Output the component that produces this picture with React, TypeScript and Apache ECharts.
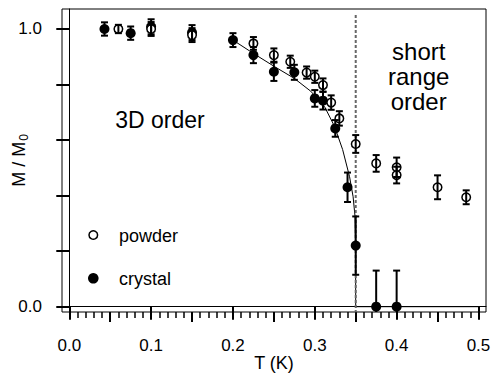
import React, { useEffect, useRef } from "react";
import * as echarts from "echarts";

const FONT = "'Liberation Sans', Arial, Helvetica, sans-serif";

// crystal (filled circles)
const crystalT = [0.043, 0.075, 0.1, 0.15, 0.2, 0.225, 0.25, 0.275, 0.3, 0.31, 0.325, 0.34, 0.35, 0.375, 0.4];
const crystalM = [1.0, 0.985, 1.008, 0.987, 0.96, 0.906, 0.846, 0.844, 0.75, 0.742, 0.642, 0.43, 0.22, 0, 0];
const crystalErr = [0.024, 0.024, 0.027, 0.027, 0.025, 0.029, 0.033, 0.027, 0.03, 0.032, 0.03, 0.053, 0.105, 0.13, 0.13];

// powder (open circles)
const powderT = [0.06, 0.1, 0.15, 0.225, 0.25, 0.27, 0.29, 0.3, 0.31, 0.32, 0.33, 0.35, 0.375, 0.4, 0.4, 0.45, 0.485];
const powderM = [1.0, 1.0, 0.978, 0.948, 0.906, 0.882, 0.843, 0.828, 0.798, 0.735, 0.678, 0.586, 0.516, 0.502, 0.474, 0.43, 0.394];
const powderErr = [0.015, 0.025, 0.025, 0.023, 0.024, 0.022, 0.022, 0.022, 0.024, 0.026, 0.026, 0.032, 0.03, 0.035, 0.03, 0.043, 0.025];

// fit curve
const fitT = [0.2, 0.225, 0.25, 0.275, 0.295, 0.312, 0.324, 0.334, 0.3425, 0.3468, 0.349, 0.3499, 0.35, 0.5];
const fitM = [0.96, 0.912, 0.866, 0.822, 0.776, 0.72, 0.65, 0.566, 0.468, 0.396, 0.33, 0.2, 0, 0];

// transition temperature marker
const tcLineT = [0.35, 0.35];
const tcLineM = [1.05, -0.02];

// ticks
const xMajorTicks = [0, 0.1, 0.2, 0.3, 0.4, 0.5];
const xMidTicks = [0.05, 0.15, 0.25, 0.35, 0.45];
const xMinorTicks = [
  0.01, 0.02, 0.03, 0.04, 0.06, 0.07, 0.08, 0.09,
  0.11, 0.12, 0.13, 0.14, 0.16, 0.17, 0.18, 0.19,
  0.21, 0.22, 0.23, 0.24, 0.26, 0.27, 0.28, 0.29,
  0.31, 0.32, 0.33, 0.34, 0.36, 0.37, 0.38, 0.39,
  0.41, 0.42, 0.43, 0.44, 0.46, 0.47, 0.48, 0.49,
];
const yTicks = [0, 0.2, 0.4, 0.6, 0.8, 1.0];
const yLabels = [0, 1.0];

const X_MIN = -0.0089;
const X_MAX = 0.5092;
const Y_MIN = -0.0191;
const Y_MAX = 1.072;

function errRender(params: any, api: any) {
  const x = api.value(0);
  const y = api.value(1);
  const e = api.value(2);
  const top = api.coord([x, y + e]);
  const bot = api.coord([x, y - e]);
  const w = 3.5;
  const st = { stroke: "#000", lineWidth: 2 };
  return {
    type: "group",
    children: [
      { type: "line", shape: { x1: top[0], y1: top[1], x2: bot[0], y2: bot[1] }, style: st },
      { type: "line", shape: { x1: top[0] - w, y1: top[1], x2: top[0] + w, y2: top[1] }, style: st },
      { type: "line", shape: { x1: bot[0] - w, y1: bot[1], x2: bot[0] + w, y2: bot[1] }, style: st },
    ],
  };
}

export default function App() {
  const ref = useRef<HTMLDivElement>(null);
  useEffect(() => {
    if (!ref.current) return;
    const chart = echarts.init(ref.current, null, { renderer: "svg" });
    const xBase = {
      type: "value",
      min: X_MIN,
      max: X_MAX,
      position: "bottom",
      splitLine: { show: false },
    };
    const option: any = {
      animation: false,
      backgroundColor: "#fff",
      grid: {
        left: 62,
        top: 9,
        right: 8,
        bottom: 62,
        containLabel: false,
        outerBoundsMode: "none",
        show: true,
        borderColor: "#000",
        borderWidth: 1,
        backgroundColor: "transparent",
      },
      xAxis: [
        {
          ...xBase,
          name: "T (K)",
          nameLocation: "middle",
          nameGap: 42,
          nameMoveOverlap: false,
          nameTextStyle: { fontSize: 18, color: "#000", fontFamily: FONT },
          axisLine: { show: true, lineStyle: { color: "#000", width: 1 } },
          axisTick: { show: true, customValues: xMajorTicks, length: 13, lineStyle: { color: "#000", width: 2 } },
          axisLabel: {
            customValues: xMajorTicks,
            margin: 25,
            fontSize: 17,
            color: "#000",
            fontFamily: FONT,
            formatter: (v: number) => v.toFixed(1),
          },
        },
        {
          ...xBase,
          axisLine: { show: false },
          axisTick: { show: true, customValues: xMidTicks, length: 10, lineStyle: { color: "#000", width: 2 } },
          axisLabel: { show: false },
        },
        {
          ...xBase,
          axisLine: { show: false },
          axisTick: { show: true, customValues: xMinorTicks, length: 6, lineStyle: { color: "#000", width: 1.5 } },
          axisLabel: { show: false },
        },
      ],
      yAxis: {
        type: "value",
        min: Y_MIN,
        max: Y_MAX,
        splitLine: { show: false },
        name: "{m|M / M}{s|0}",
        nameLocation: "middle",
        nameGap: 32,
        nameMoveOverlap: false,
        nameTextStyle: {
          color: "#000",
          fontFamily: FONT,
          rich: {
            m: { fontSize: 18, color: "#000", fontFamily: FONT, lineHeight: 22 },
            s: { fontSize: 12, color: "#000", fontFamily: FONT, lineHeight: 12, padding: [10, 0, 0, 1] },
          },
        },
        axisLine: { show: true, lineStyle: { color: "#000", width: 1 } },
        axisTick: { show: true, customValues: yTicks, length: 13, lineStyle: { color: "#000", width: 2 } },
        axisLabel: {
          customValues: yLabels,
          margin: 20,
          fontSize: 17,
          color: "#000",
          fontFamily: FONT,
          formatter: (v: number) => v.toFixed(1),
        },
      },
      series: [
        {
          type: "line",
          data: fitT.map((t, i) => [t, fitM[i]]),
          showSymbol: false,
          lineStyle: { color: "#000", width: 1 },
          z: 1,
        },
        {
          type: "line",
          data: tcLineT.map((t, i) => [t, tcLineM[i]]),
          showSymbol: false,
          lineStyle: { color: "#666", width: 2, type: [3, 2] },
          z: 1,
        },
        {
          type: "scatter",
          name: "crystal",
          data: crystalT.map((t, i) => [t, crystalM[i]]),
          symbol: "circle",
          symbolSize: 10,
          itemStyle: { color: "#000", opacity: 1 },
          z: 2,
        },
        {
          type: "scatter",
          name: "powder",
          data: powderT.map((t, i) => [t, powderM[i]]),
          symbol: "circle",
          symbolSize: 8.5,
          itemStyle: { color: "#fff", borderColor: "#000", borderWidth: 1.5, opacity: 1 },
          z: 3,
        },
        {
          type: "custom",
          data: crystalT.map((t, i) => [t, crystalM[i], crystalErr[i]]),
          renderItem: errRender,
          clip: true,
          z: 4,
        },
        {
          type: "custom",
          data: powderT.map((t, i) => [t, powderM[i], powderErr[i]]),
          renderItem: errRender,
          clip: true,
          z: 4,
        },
      ],
      graphic: [
        { type: "text", x: 160, y: 120, style: { text: "3D order", font: `23px ${FONT}`, fill: "#000", textAlign: "center", textVerticalAlign: "middle" } },
        { type: "text", x: 418.7, y: 51, style: { text: "short", font: `24px ${FONT}`, fill: "#000", textAlign: "center", textVerticalAlign: "middle" } },
        { type: "text", x: 418.7, y: 76, style: { text: "range", font: `24px ${FONT}`, fill: "#000", textAlign: "center", textVerticalAlign: "middle" } },
        { type: "text", x: 418.7, y: 101.5, style: { text: "order", font: `24px ${FONT}`, fill: "#000", textAlign: "center", textVerticalAlign: "middle" } },
        { type: "circle", shape: { cx: 93.3, cy: 235, r: 4.3 }, style: { fill: "#fff", stroke: "#000", lineWidth: 1.5 } },
        { type: "circle", shape: { cx: 93.3, cy: 278.3, r: 5.3 }, style: { fill: "#000" } },
        { type: "text", x: 119, y: 236, style: { text: "powder", font: `18px ${FONT}`, fill: "#000", textVerticalAlign: "middle" } },
        { type: "text", x: 119, y: 279, style: { text: "crystal", font: `18px ${FONT}`, fill: "#000", textVerticalAlign: "middle" } },
      ],
    };
    chart.setOption(option);
    return () => chart.dispose();
  }, []);
  return <div ref={ref} style={{ position: "fixed", left: 0, top: 0, width: 494, height: 374 }} />;
}
